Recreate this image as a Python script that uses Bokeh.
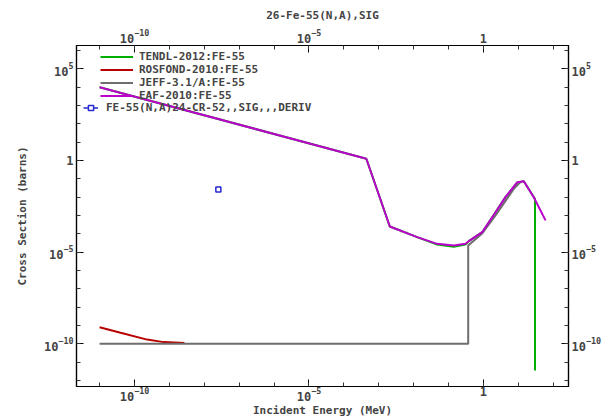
from bokeh.plotting import figure
from bokeh.models import LogAxis, FixedTicker, Legend, LegendItem, Range1d, LogTickFormatter
from bokeh.embed import file_html
from bokeh.resources import INLINE

# ---- data ----
title_text = "26-Fe-55(N,A),SIG"
x_label = "Incident Energy (MeV)"
y_label = "Cross Section (barns)"

tendl_e = [1e-11, 4.4e-4, 2.07e-3, 1.26e-2, 4.7e-2, 0.141, 0.305, 0.40, 0.92, 2.21, 4.27, 9.2, 14.3, 30.0, 30.0]
tendl_s = [1.0e4, 1.25, 2.5e-4, 6.6e-5, 2.6e-5, 2.0e-5, 2.6e-5, 4.3e-5, 1.23e-4, 1.5e-3, 1.0e-2, 6.2e-2, 7.4e-2, 8.0e-3, 3.5e-12]

rosfond_e = [1e-11, 4e-11, 2.3e-10, 6.9e-10, 2.7e-9]
rosfond_s = [8.1e-10, 4.0e-10, 1.7e-10, 1.24e-10, 1.1e-10]

jeff_e = [1e-11, 0.365, 0.365, 0.92, 2.21, 7.4, 11.5]
jeff_s = [1e-10, 1e-10, 2.3e-5, 1.05e-4, 1.0e-3, 2.86e-2, 6.6e-2]

eaf_e = [1e-11, 4.4e-4, 2.07e-3, 1.26e-2, 4.7e-2, 0.141, 0.305, 0.40, 0.92, 2.21, 4.27, 9.2, 14.3, 27.6, 60.0]
eaf_s = [1.0e4, 1.25, 2.5e-4, 6.6e-5, 2.85e-5, 2.3e-5, 2.85e-5, 4.3e-5, 1.23e-4, 1.5e-3, 1.0e-2, 6.5e-2, 7.4e-2, 1.0e-2, 5.4e-4]

exfor_e = [2.53e-8]
exfor_s = [0.026]

labels = ["TENDL-2012:FE-55", "ROSFOND-2010:FE-55", "JEFF-3.1/A:FE-55", "EAF-2010:FE-55"]
exfor_label = "FE-55(N,A)24-CR-52,,SIG,,,DERIV"

x_major = [1e-10, 1e-5, 1.0]
x_minor = [10.0 ** k for k in range(-12, 4)]
y_major = [1e-10, 1e-5, 1.0, 1e5]
y_minor = [10.0 ** k for k in range(-13, 8)]

colors = ["#00b000", "#b80000", "#6e6e6e", "#bb00cc"]
blue = "#2828d0"
FONT = "DejaVu Sans Mono"

W, H = 611, 419
p = figure(width=W, height=H, x_axis_type="log", y_axis_type="log",
           x_range=Range1d(2.18e-12, 273.0), y_range=Range1d(4.7e-13, 1.88e6),
           output_backend="svg", toolbar_location=None,
           min_border_left=76, min_border_right=43, min_border_top=45, min_border_bottom=33)
p.xgrid.visible = False
p.ygrid.visible = False
p.outline_line_color = "black"
p.outline_line_width = 1.2
p.background_fill_color = "white"
p.border_fill_color = "white"

p.title.text = title_text
p.title.align = "center"
p.title.text_font = FONT
p.title.text_font_style = "bold"
p.title.text_font_size = "11px"
p.title.standoff = 8

p.add_layout(LogAxis(), "above")
p.add_layout(LogAxis(), "right")


def style(ax, major, minor):
    ax.ticker = FixedTicker(ticks=major, minor_ticks=minor)
    ax.formatter = LogTickFormatter(min_exponent=1)
    ax.major_tick_in = 7
    ax.major_tick_out = 0
    ax.minor_tick_in = 4
    ax.minor_tick_out = 0
    ax.major_tick_line_color = "black"
    ax.minor_tick_line_color = "#333333"
    ax.axis_line_color = "black"
    ax.axis_line_width = 1.2
    ax.major_label_text_font = FONT
    ax.major_label_text_font_style = "bold"
    ax.major_label_text_font_size = "12px"
    ax.major_label_standoff = 3
    ax.axis_label_text_font = FONT
    ax.axis_label_text_font_style = "bold"
    ax.axis_label_text_font_size = "11px"
    ax.axis_label_standoff = 0


for ax in p.below + p.above:
    style(ax, x_major, x_minor)
for ax in p.left + p.right:
    style(ax, y_major, y_minor)
p.below[0].axis_label = x_label
p.below[0].major_label_standoff = 0
p.left[0].axis_label = y_label
p.left[0].axis_label_standoff = 12

series = [(tendl_e, tendl_s), (rosfond_e, rosfond_s), (jeff_e, jeff_s), (eaf_e, eaf_s)]
rends = []
for (e, s), c in zip(series, colors):
    rends.append(p.line(e, s, line_color=c, line_width=2))

r_bar = p.line(exfor_e, exfor_s, line_color=blue, line_width=1.5)
r_pt = p.scatter(exfor_e, exfor_s, marker="square", size=5, line_color=blue,
                 fill_color="white", line_width=1.5)

frame_h = 341
leg1 = Legend(items=[LegendItem(label=l, renderers=[r]) for l, r in zip(labels, rends)],
              location=(24, frame_h - 57), orientation="vertical",
              glyph_width=33, glyph_height=13, label_height=13, label_standoff=6,
              spacing=0, padding=0, margin=0,
              border_line_alpha=0, background_fill_alpha=0,
              label_text_font=FONT, label_text_font_style="bold", label_text_font_size="11px")
leg2 = Legend(items=[LegendItem(label=exfor_label, renderers=[r_bar, r_pt])],
              location=(7, frame_h - 69), orientation="vertical",
              glyph_width=15, glyph_height=13, label_height=13, label_standoff=8,
              spacing=0, padding=0, margin=0,
              border_line_alpha=0, background_fill_alpha=0,
              label_text_font=FONT, label_text_font_style="bold", label_text_font_size="11px")
p.add_layout(leg1)
p.add_layout(leg2)

open("out.html", "w").write(file_html(p, INLINE))
